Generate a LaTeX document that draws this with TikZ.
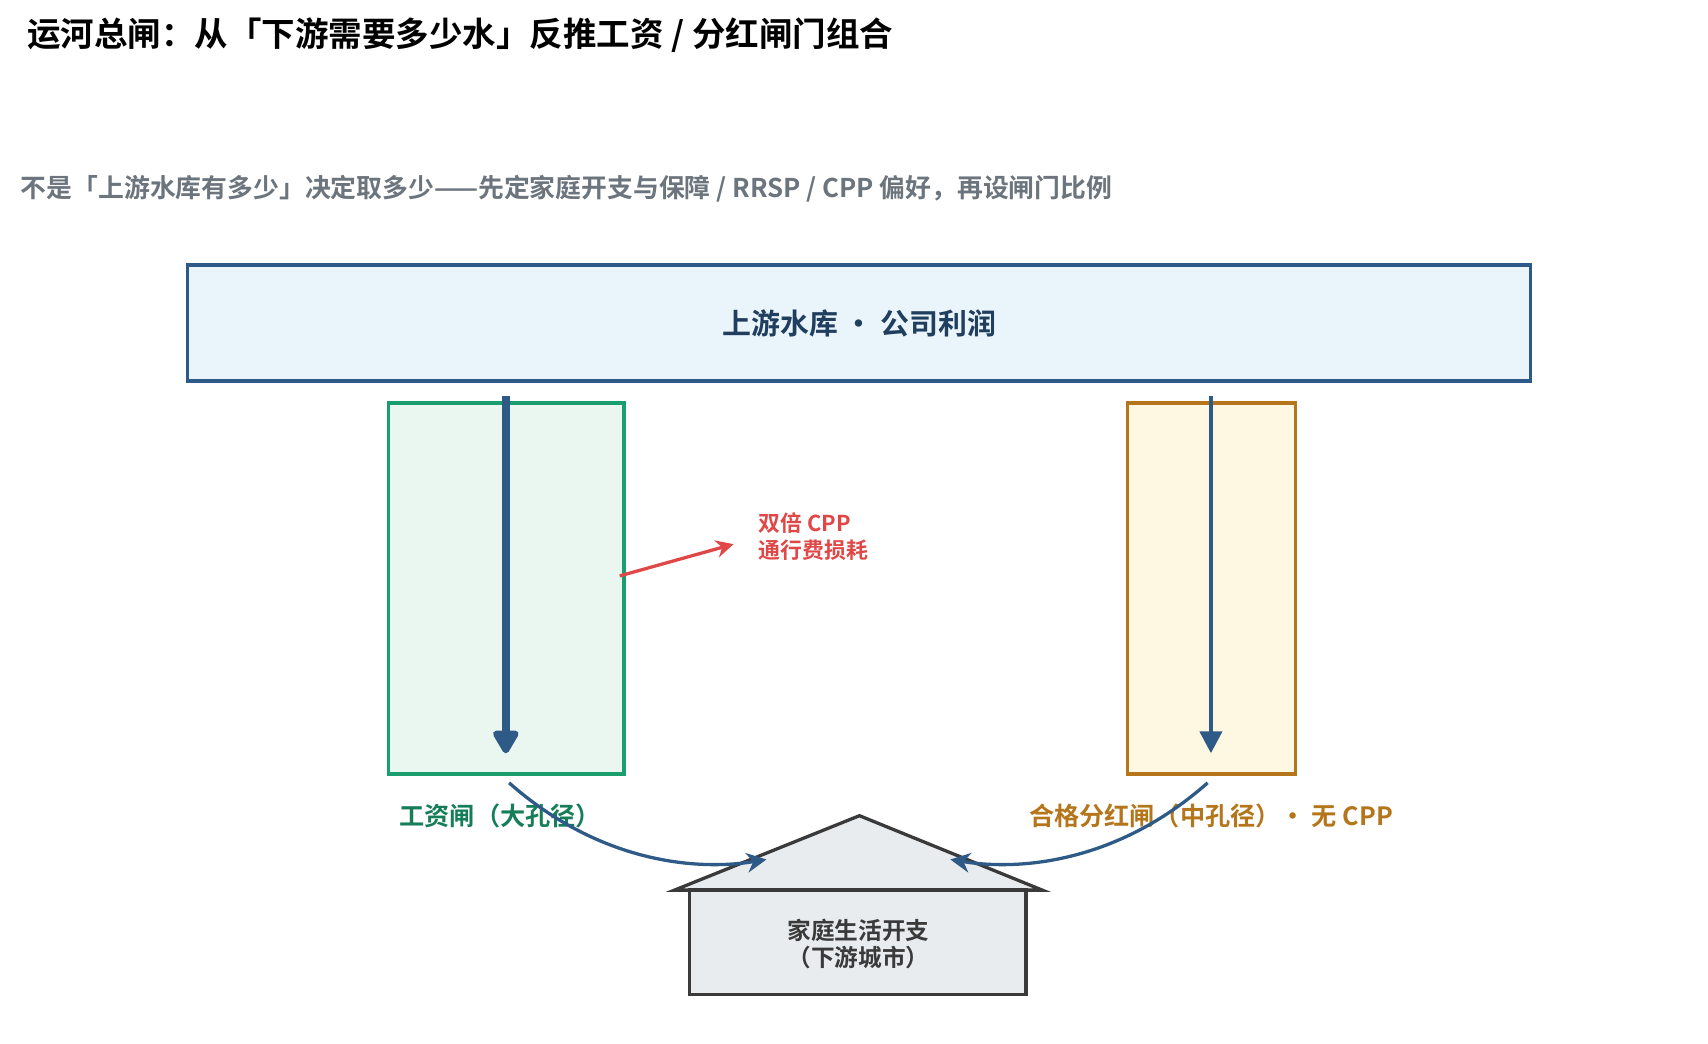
\documentclass[tikz,border=0pt]{standalone}
\usepackage{fontspec}
\setmainfont{Noto Sans CJK SC}[BoldFont={* Bold}]
\usetikzlibrary{arrows.meta}
\definecolor{damblue}{HTML}{2E5A87}
\definecolor{damgreen}{HTML}{1A9E6E}
\definecolor{damgold}{HTML}{B5761B}
\definecolor{damred}{HTML}{E04848}
\definecolor{damgray}{HTML}{6C757D}
\definecolor{damdark}{HTML}{3A3A3A}
\definecolor{resfill}{HTML}{EAF4FB}
\definecolor{goldfill}{HTML}{FEF8E2}
\definecolor{greenfill}{HTML}{EAF6F0}
\definecolor{homefill}{HTML}{E8ECEF}
\tikzset{
  gate/.style={line width=1.5pt},
  flow/.style={draw=damblue,-{Triangle[length=10pt,width=10pt]}},
  lbl/.style={font=\bfseries\fontsize{11.5}{13}\selectfont},
}
\begin{document}
\begin{tikzpicture}[x=0.5pt,y=-0.5pt]
    \useasboundingbox (0,0) rectangle (1560,953.5);
    \node[anchor=west,font=\bfseries\fontsize{15.3}{17}\selectfont] (title) at (18,32) {运河总闸：从「下游需要多少水」反推工资 / 分红闸门组合};
    \node[anchor=west,text=damgray,font=\bfseries\fontsize{11.8}{13}\selectfont] (sub) at (12,172) {不是「上游水库有多少」决定取多少——先定家庭开支与保障 / RRSP / CPP 偏好，再设闸门比例};
    % reservoir
    \draw[gate,draw=damblue,fill=resfill] (171,242) rectangle (1398,348);
    \node[text=damblue!70!black,font=\bfseries\fontsize{13.2}{15}\selectfont] (res) at (785,295) {上游水库 · 公司利润};
    % gates
    \draw[gate,draw=damgreen,fill=greenfill] (355,368) rectangle (570,707);
    \draw[gate,draw=damgold,fill=goldfill] (1030,368) rectangle (1183,707);
    \coordinate (wtop) at (462,362);
    \coordinate (wbot) at (462,688);
    \coordinate (dtop) at (1106,362);
    \coordinate (dbot) at (1106,688);
    \draw[flow,line width=3.5pt,-{Triangle[length=12pt,width=13pt,round]}] (wtop) -- (wbot);
    \draw[flow,line width=2pt] (dtop) -- (dbot);
    \node[lbl,text=damgreen!80!black] (wage) at (457,745) {工资闸（大孔径）};
    \node[lbl,text=damgold] (div) at (1106,745) {合格分红闸（中孔径）· 无 CPP};
    % toll
    \coordinate (tollA) at (566,526);
    \coordinate (tollB) at (670,497);
    \draw[damred,line width=1.5pt,-{Stealth[length=8pt,width=8pt]}] (tollA) -- (tollB);
    \node[anchor=west,align=left,text=damred,font=\bfseries\fontsize{10}{12}\selectfont] (toll) at (686,490) {双倍 CPP\\通行费损耗};
    % house
    \draw[gate,draw=damdark,fill=homefill] (616,813) -- (785,745) -- (952,813) -- cycle;
    \draw[gate,draw=damdark,fill=homefill] (630,813) rectangle (937,908);
    \node[align=center,text=damdark,font=\bfseries\fontsize{10.8}{12.5}\selectfont] (home) at (784,862) {家庭生活开支\\（下游城市）};
    % flows into home
    \coordinate (wout) at (465,715);
    \coordinate (win) at (700,785);
    \coordinate (dout) at (1103,715);
    \coordinate (din) at (868,785);
    \draw[flow,line width=1.5pt,-{Stealth[length=9pt,width=9pt]}] (wout) .. controls (550,790) and (640,795) .. (win);
    \draw[flow,line width=1.5pt,-{Stealth[length=9pt,width=9pt]}] (dout) .. controls (1018,790) and (928,795) .. (din);
\end{tikzpicture}
\end{document}
